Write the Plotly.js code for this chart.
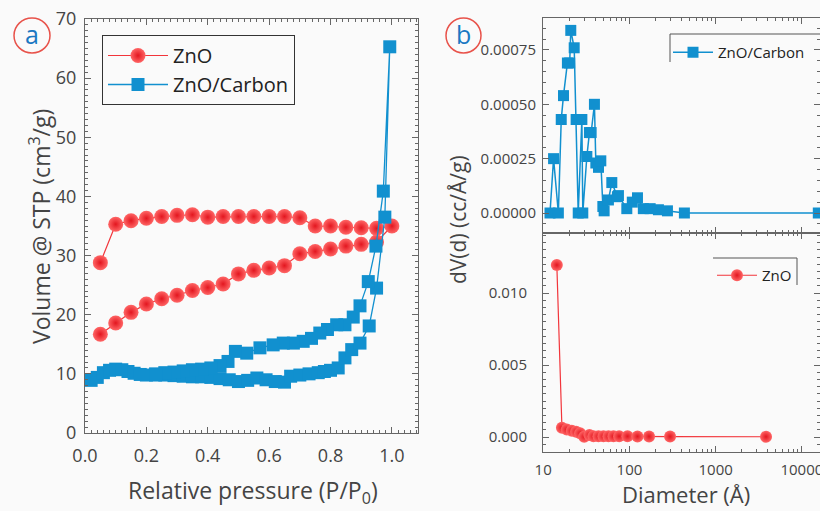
<!DOCTYPE html>
<html>
<head>
<meta charset="utf-8">
<script src="https://cdn.plot.ly/plotly-3.0.1.min.js"></script>
<style>html,body{margin:0;padding:0;background:#fafafa;}#chart{width:820px;height:511px;}</style>
</head>
<body>
<div id="chart"></div>
<script>
// ---- Panel a: N2 isotherms ----
var znoP = [0.05,0.1,0.15,0.2,0.25,0.3,0.35,0.4,0.45,0.5,0.55,0.6,0.65,0.7,0.75,0.8,0.85,0.9,0.95,1.0,
            0.95,0.9,0.85,0.8,0.75,0.7,0.65,0.6,0.55,0.5,0.45,0.4,0.35,0.3,0.25,0.2,0.15,0.1,0.05];
var znoV = [16.7,18.6,20.4,21.8,22.7,23.3,24.1,24.6,25.2,26.9,27.5,27.9,28.3,30.3,30.7,31.1,31.6,31.9,32.3,35.0,
            34.6,34.7,34.8,35.0,35.0,36.4,36.6,36.6,36.6,36.6,36.6,36.5,36.9,36.8,36.6,36.3,35.9,35.3,28.8];
var zcP = [0.02,0.04,0.06,0.08,0.10,0.12,0.14,0.16,0.18,0.20,0.23,0.26,0.29,0.32,0.35,0.38,0.41,0.44,0.47,0.50,
           0.53,0.56,0.59,0.62,0.65,0.67,0.70,0.73,0.76,0.78,0.80,0.825,0.847,0.869,0.896,0.926,0.95,0.977,0.993,
           0.972,0.948,0.923,0.896,0.874,0.847,0.82,0.79,0.765,0.738,0.711,0.679,0.646,0.613,0.57,0.527,0.49,0.466,
           0.44,0.41,0.38,0.35,0.32,0.29,0.26,0.23];
var zcV = [8.9,9.4,10.2,10.6,10.8,10.7,10.4,10.1,9.9,9.8,9.8,9.8,9.7,9.6,9.5,9.5,9.4,9.2,9.0,8.7,
           8.9,9.3,9.0,8.7,8.6,9.6,9.8,10.0,10.2,10.4,10.6,11.0,12.7,14.1,15.2,18.1,24.5,36.5,65.3,
           40.9,31.6,25.6,21.5,19.6,18.3,18.3,17.5,16.9,16.0,15.5,15.2,15.2,14.9,14.4,13.5,13.8,12.1,
           11.4,11.0,10.8,10.7,10.5,10.3,10.2,10.0];

// ---- Panel b: pore size distributions ----
var zcD = [12.0,13.2,15.0,16.2,17.2,19.1,20.3,20.9,22.9,24.1,25.5,28.1,28.8,32.1,34.4,36.0,39.3,40.8,43.8,46.6,
           49.2,50.9,57.1,62.5,72.6,74.6,93.3,108,124,145,174,217,276,434,15500];
var zcdV = [0,0.00025,0,0.00043,0.00054,0.00069,0.00069,0.00084,0.00076,0.00043,0,0.00043,0,0.00026,0.00037,0.00037,0.0005,0.00023,0.00021,0.00024,
           0.00003,0.00001,0.00006,0.00014,0.000075,0.00008,0.00002,0.00005,0.00007,0.00002,0.00002,0.000015,0.00001,0,0];
var znoD = [14.4,16.5,18.8,21.5,24.1,26.8,29.9,34.4,38.3,43.8,50.0,57.2,65.3,76,95,124,169,296,3840];
var znodV = [0.01194,0.00065,0.00053,0.00044,0.00037,0.00026,0.00002,0.00014,0.00006,0.00005,0.00005,0.00005,0.00005,0.00005,0.00005,0.00004,0.00004,0.00003,0.00002];

var W = 820, H = 511;
function px(x){return x/W;} function py(y){return 1-y/H;}

var red = '#f2353b', blue = '#1190cf';
var redMarker = {symbol:'circle', size:15, color:'#ff6666', gradient:{type:'radial', color:'#e3161f'}, line:{width:0}};
var blueMarker = {symbol:'square', size:13, color:blue, line:{width:0}};

var traces = [
  {x:znoP, y:znoV, name:'ZnO', mode:'lines+markers', xaxis:'x', yaxis:'y', legend:'legend',
   line:{color:red, width:1.2}, marker:redMarker},
  {x:zcP, y:zcV, name:'ZnO/Carbon', mode:'lines+markers', xaxis:'x', yaxis:'y', legend:'legend',
   line:{color:blue, width:1.3}, marker:blueMarker},
  {x:zcD, y:zcdV, name:'ZnO/Carbon', mode:'lines+markers', xaxis:'x2', yaxis:'y2', legend:'legend2',
   line:{color:blue, width:1.5}, marker:{symbol:'square', size:11, color:blue, line:{width:0}}},
  {x:znoD, y:znodV, name:'ZnO', mode:'lines+markers', xaxis:'x3', yaxis:'y3', legend:'legend3',
   line:{color:red, width:1.2}, marker:{symbol:'circle', size:12, color:'#ff6666', gradient:{type:'radial', color:'#e3161f'}, line:{width:0}}}
];

var FF = 'Open Sans, sans-serif';
var axBase = {showline:true, linecolor:'#666', linewidth:1, mirror:'allticks', ticks:'inside', ticklen:6,
              tickcolor:'#666', showgrid:false, zeroline:false};

function logMinor(){ var v=[]; for (var e=1;e<=4;e++){ for (var k=2;k<=9;k++) v.push(k*Math.pow(10,e)); } return v; }

function ann(text, x, y, size, angle){
  return {text:text, xref:'paper', yref:'paper', x:px(x), y:py(y), xanchor:'center', yanchor:'middle',
          textangle:angle||0, showarrow:false, font:{family:FF, size:size, color:'#444'}};
}

var layout = {
  width:W, height:H, margin:{l:0,r:0,t:0,b:0},
  paper_bgcolor:'#fafafa', plot_bgcolor:'#fafafa',
  showlegend:true,
  xaxis: Object.assign({}, axBase, {domain:[px(85),px(418)], range:[0,1.085], anchor:'y',
          tickvals:[0,0.2,0.4,0.6,0.8,1.0], tickformat:'.1f', ticklabelstandoff:6,
          tickfont:{family:FF, size:18, color:'#444'},
          minor:{dtick:0.02, tick0:0, ticks:'inside', ticklen:3, tickcolor:'#666'}}),
  yaxis: Object.assign({}, axBase, {domain:[py(433),py(19)], range:[0,70], anchor:'x', dtick:10,
          ticklabelstandoff:4, tickfont:{family:FF, size:18, color:'#444'},
          minor:{dtick:1, tick0:0, ticks:'inside', ticklen:3, tickcolor:'#666'}}),
  xaxis2: Object.assign({}, axBase, {domain:[px(543),1], type:'log', range:[0.998,4.21], anchor:'y2',
          showticklabels:false, tickvals:[10,100,1000,10000],
          minor:{tickmode:'array', tickvals:logMinor(), ticks:'inside', ticklen:3, tickcolor:'#666'}}),
  yaxis2: Object.assign({}, axBase, {domain:[py(233),py(18)], range:[-0.000092,0.000897], anchor:'x2',
          tickvals:[0,0.00025,0.0005,0.00075], tickformat:'.5f', ticklabelstandoff:3,
          tickfont:{family:FF, size:15, color:'#444'},
          minor:{dtick:0.00005, tick0:0, ticks:'inside', ticklen:3, tickcolor:'#666'}}),
  xaxis3: Object.assign({}, axBase, {domain:[px(543),1], type:'log', range:[0.998,4.21], anchor:'y3',
          tickvals:[10,100,1000,10000], ticktext:['10','100','1000','10000'], ticklabeloverflow:'allow',
          ticklabelstandoff:4, tickfont:{family:FF, size:15, color:'#444'},
          minor:{tickmode:'array', tickvals:logMinor(), ticks:'inside', ticklen:3, tickcolor:'#666'}}),
  yaxis3: Object.assign({}, axBase, {domain:[py(452),py(233)], range:[-0.00104,0.014167], anchor:'x3',
          tickvals:[0,0.005,0.01], tickformat:'.3f', ticklabelstandoff:12,
          tickfont:{family:FF, size:15, color:'#444'},
          minor:{dtick:0.0005, tick0:0, ticks:'inside', ticklen:3, tickcolor:'#666'}}),
  legend: {x:px(102), y:py(35), xanchor:'left', yanchor:'top', bgcolor:'rgba(0,0,0,0)',
           bordercolor:'#333', borderwidth:1, itemwidth:60, tracegroupgap:0,
           font:{family:FF, size:20, color:'#222'}},
  legend2: {x:px(668), y:py(36), xanchor:'left', yanchor:'top', bgcolor:'rgba(0,0,0,0)', borderwidth:0,
           itemwidth:40, font:{family:FF, size:15, color:'#222'}},
  legend3: {x:px(712), y:py(259), xanchor:'left', yanchor:'top', bgcolor:'rgba(0,0,0,0)', borderwidth:0,
           itemwidth:40, font:{family:FF, size:15, color:'#222'}},
  shapes: [
    {type:'circle', xref:'paper', yref:'paper', x0:px(14), x1:px(50), y0:py(53), y1:py(18), line:{color:'#e8524a', width:1.5}},
    {type:'circle', xref:'paper', yref:'paper', x0:px(446), x1:px(481), y0:py(53), y1:py(18), line:{color:'#e8524a', width:1.5}},
    {type:'line', xref:'paper', yref:'paper', x0:px(670), x1:px(820), y0:py(34), y1:py(34), line:{color:'#555', width:1}},
    {type:'line', xref:'paper', yref:'paper', x0:px(670), x1:px(670), y0:py(34), y1:py(62), line:{color:'#555', width:1}},
    {type:'line', xref:'paper', yref:'paper', x0:px(713), x1:px(797), y0:py(258), y1:py(258), line:{color:'#555', width:1}},
    {type:'line', xref:'paper', yref:'paper', x0:px(797), x1:px(797), y0:py(258), y1:py(285), line:{color:'#555', width:1}}
  ],
  annotations: [
    {text:'a', xref:'paper', yref:'paper', x:px(32), y:py(34), xanchor:'center', yanchor:'middle', showarrow:false,
     font:{family:FF, size:25, color:'#1a78c2'}},
    {text:'b', xref:'paper', yref:'paper', x:px(463.5), y:py(34), xanchor:'center', yanchor:'middle', showarrow:false,
     font:{family:FF, size:25, color:'#1a78c2'}},
    ann('Volume @ STP (cm<sup>3</sup>/g)', 40, 227, 23, -90),
    ann('Relative pressure (P/P<sub>0</sub>)', 253, 491, 23),
    ann('dV(d) (cc/Å/g)', 458, 220, 21, -90),
    ann('Diameter (Å)', 686, 494, 22)
  ]
};

Plotly.newPlot('chart', traces, layout, {displayModeBar:false, staticPlot:true});
</script>
</body>
</html>
